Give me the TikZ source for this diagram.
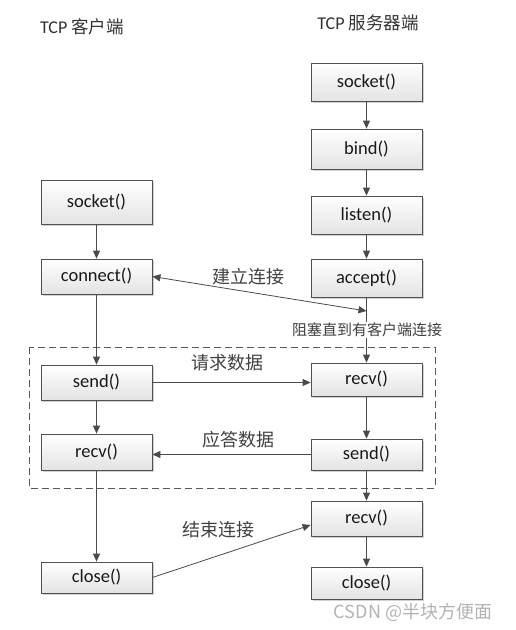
\documentclass[tikz,border=0pt]{standalone}
\usepackage{fontspec}
\setmainfont{Carlito}
\newfontfamily\cjk{Noto Sans CJK SC}
\usetikzlibrary{arrows.meta,shadows,calc}
\definecolor{boxline}{HTML}{505050}
\definecolor{lineclr}{HTML}{4A4A4A}
\definecolor{lbl}{HTML}{404040}
\begin{document}
\begin{tikzpicture}[x=1pt,y=-1pt,
  box/.style={draw=boxline, line width=0.8pt, top color=white, bottom color=gray!22,
    minimum width=111pt, inner sep=0pt, font=\fontsize{18.5}{18.5}\selectfont, text=black!90,
    drop shadow={shadow xshift=1.5pt, shadow yshift=-1.5pt, fill=gray!60, opacity=0.6}},
  arr/.style={draw=lineclr, line width=0.8pt, -{Triangle[length=8pt,width=7pt]}},
  darr/.style={draw=lineclr, line width=0.8pt, {Triangle[length=8pt,width=7pt]}-{Triangle[length=8pt,width=7pt]}},
  lab/.style={font=\cjk\fontsize{18}{18}\selectfont, text=lbl, inner sep=1pt},
  title/.style={font=\fontsize{18}{18}\selectfont, text=black!80, inner sep=0pt},
  dbox/.style={draw=gray!70!black, line width=0.8pt, dash pattern=on 7pt off 4pt}]
\useasboundingbox (0,0) rectangle (515,630);

% titles
\node[title] (t1) at (82,27) {TCP {\cjk\fontsize{17.5}{17.5}\selectfont 客户端}};
\node[title] (t2) at (368,23) {TCP {\cjk\fontsize{17.5}{17.5}\selectfont 服务器端}};

% server boxes
\node[box, minimum height=38pt] (ssock) at (366.5,82) {socket()};
\node[box, minimum height=40pt] (sbind) at (366.5,149) {bind()};
\node[box, minimum height=38pt] (slist) at (366.5,215) {listen()};
\node[box, minimum height=38pt] (sacc) at (366.5,278) {accept()};
\node[box, minimum height=33pt] (srecv) at (366.5,379.5) {recv()};
\node[box, minimum height=31pt] (ssend) at (366.5,454.5) {send()};
\node[box, minimum height=35pt] (srecvb) at (366.5,518.5) {recv()};
\node[box, minimum height=32pt] (sclose) at (366.5,583) {close()};

% client boxes
\node[box, minimum height=44pt] (csock) at (96.5,202) {socket()};
\node[box, minimum height=35pt] (cconn) at (96.5,276.5) {connect()};
\node[box, minimum height=35pt] (csend) at (96.5,382.5) {send()};
\node[box, minimum height=36pt] (crecv) at (96.5,452) {recv()};
\node[box, minimum height=31pt] (cclose) at (96.5,577.5) {close()};

% dashed region
\draw[dbox] (29,347) rectangle (435,488);

% server flow
\draw[arr] (ssock) -- (sbind);
\draw[arr] (sbind) -- (slist);
\draw[arr] (slist) -- (sacc);
\draw[arr] (sacc) -- (srecv);
\draw[arr] (srecv) -- (ssend);
\draw[arr] (ssend) -- (srecvb);
\draw[arr] (srecvb) -- (sclose);

% client flow
\draw[arr] (csock) -- (cconn);
\draw[arr] (cconn) -- (csend);
\draw[arr] (csend) -- (crecv);
\draw[arr] (crecv) -- (cclose);

% exchanges
\coordinate (accpt) at (366.5,311);
\draw[darr] (cconn.east) -- (accpt);
\draw[arr] (csend.east) -- (csend.east -| srecv.west);
\draw[arr] (ssend.west) -- (ssend.west -| crecv.east);
\draw[arr] (cclose.east) -- ([yshift=-6.5pt]srecvb.west);

% labels
\node[lab] (l1) at (248,277) {建立连接};
\node[lab, fill=white, font=\cjk\fontsize{15}{15}\selectfont] (l2) at (367,330) {阻塞直到有客户端连接};
\node[lab] (l3) at (227,363) {请求数据};
\node[lab] (l4) at (238,440) {应答数据};
\node[lab] (l5) at (218,530) {结束连接};

% watermark
\node[font=\cjk\fontsize{18}{18}\selectfont, text=gray!60, inner sep=0pt] (wm) at (413,612) {CSDN @半块方便面};
\end{tikzpicture}
\end{document}
